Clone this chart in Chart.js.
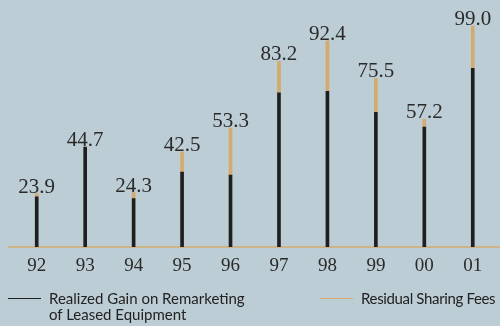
<!DOCTYPE html>
<html>
<head>
<meta charset="utf-8">
<script src="https://cdn.jsdelivr.net/npm/chart.js@4/dist/chart.umd.min.js"></script>
<style>
  html, body { margin: 0; padding: 0; background: #bdcdd5; }
  #wrap { position: relative; width: 500px; height: 326px; overflow: hidden; }
  #legend { position: absolute; left: 0; top: 290px; width: 500px; font-family: Lato, "Open Sans", sans-serif; font-size: 15px; color: #222; }
  .item { position: absolute; top: 0; line-height: 16px; white-space: nowrap; }
  .swatch { position: absolute; top: 8px; width: 33px; height: 0; border-top: 1.5px solid; }
</style>
</head>
<body>
<div id="wrap">
  <canvas id="myChart" width="500" height="326"></canvas>
  <div id="legend"></div>
</div>
<script>
var years = ["92", "93", "94", "95", "96", "97", "98", "99", "00", "01"]
// black part of each bar
var realizedGain = [22.4, 44.7, 21.7, 33.5, 32.2, 69.1, 69.7, 60.3, 53.7, 80.0]
// tan part on top
var residualFees = [1.5, 0, 2.6, 9.0, 21.1, 14.1, 22.7, 15.2, 3.5, 19.0]
var totalLabels = ["23.9", "44.7", "24.3", "42.5", "53.3", "83.2", "92.4", "75.5", "57.2", "99.0"]
var seriesNames = [["Realized Gain on Remarketing", "of Leased Equipment"], ["Residual Sharing Fees"]]

var black = "#1f1f1f"
var tan = "#d4aa6e"

// tan baseline, a bit wider than the plot area
var baseLine = {
  id: "baseLine",
  beforeDatasetsDraw: function(chart) {
    var ctx = chart.ctx
    var y = chart.scales.y.getPixelForValue(0)
    ctx.save()
    ctx.strokeStyle = tan
    ctx.lineWidth = 1.5
    ctx.beginPath()
    ctx.moveTo(8, y)
    ctx.lineTo(500, y)
    ctx.stroke()
    ctx.restore()
  }
}

// totals written above the bars
var totals = {
  id: "totals",
  afterDatasetsDraw: function(chart) {
    var ctx = chart.ctx
    var top = chart.getDatasetMeta(1).data
    ctx.save()
    ctx.font = "21px 'Liberation Serif'"
    ctx.fillStyle = "#2a2a2a"
    ctx.textAlign = "center"
    ctx.textBaseline = "alphabetic"
    for (var i = 0; i < top.length; i++) {
      ctx.fillText(totalLabels[i], top[i].x, top[i].y - 1)
    }
    ctx.restore()
  }
}

var ctx = document.getElementById("myChart")
var myChart = new Chart(ctx, {
  type: "bar",
  data: {
    labels: years,
    datasets: [{
      label: seriesNames[0].join(" "),
      data: realizedGain,
      backgroundColor: black,
      barThickness: 3
    }, {
      label: seriesNames[1][0],
      data: residualFees,
      backgroundColor: tan,
      barThickness: 3
    }]
  },
  options: {
    responsive: false,
    animation: false,
    layout: { padding: { left: 12.5, right: 3, top: 1.5, bottom: 40.3 } },
    plugins: { legend: { display: false }, tooltip: { enabled: false } },
    scales: {
      x: {
        stacked: true,
        grid: { display: false, drawTicks: false },
        border: { display: false },
        ticks: { color: "#2a2a2a", padding: 8, font: { family: "Liberation Serif", size: 19 } }
      },
      y: {
        stacked: true,
        display: false,
        min: 0,
        max: 110
      }
    }
  },
  plugins: [baseLine, totals]
})

// legend below the chart
var legend = document.getElementById("legend")
var spots = [
  { line: 8, text: 49, color: black, spacing: 0 },
  { line: 320, text: 361, color: tan, spacing: -0.35 }
]
for (var k = 0; k < spots.length; k++) {
  var sw = document.createElement("div")
  sw.className = "swatch"
  sw.style.left = spots[k].line + "px"
  sw.style.borderColor = spots[k].color
  legend.appendChild(sw)
  var it = document.createElement("div")
  it.className = "item"
  it.style.left = spots[k].text + "px"
  it.style.letterSpacing = spots[k].spacing + "px"
  it.innerHTML = seriesNames[k].join("<br>")
  legend.appendChild(it)
}
</script>
</body>
</html>
